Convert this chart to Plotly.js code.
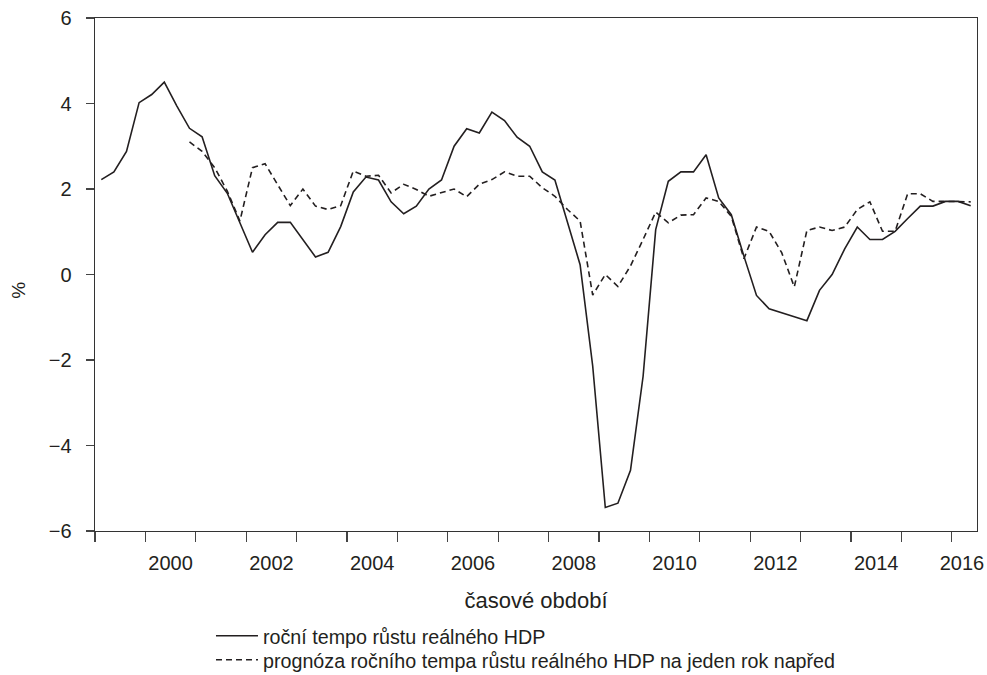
<!DOCTYPE html>
<html>
<head>
<meta charset="utf-8">
<script src="https://cdn.plot.ly/plotly-3.0.1.min.js"></script>
<style>
html,body{margin:0;padding:0;background:#fff;}
#chart{width:987px;height:675px;}
</style>
</head>
<body>
<div id="chart"></div>
<script>
// Quarterly data, first quarter = 1999 Q1
const firstYear = 1999;
const gdpGrowth = [
  2.22, 2.40, 2.88, 4.02,
  4.21, 4.50, 3.94, 3.42,
  3.22, 2.31, 1.90, 1.21,
  0.52, 0.93, 1.22, 1.22,
  0.82, 0.41, 0.52, 1.12,
  1.93, 2.28, 2.21, 1.70,
  1.42, 1.60, 2.00, 2.21,
  3.00, 3.41, 3.31, 3.80,
  3.60, 3.21, 3.00, 2.40,
  2.21, 1.22, 0.23, -2.14,
  -5.45, -5.35, -4.58, -2.38,
  1.05, 2.18, 2.40, 2.40,
  2.80, 1.79, 1.40, 0.43,
  -0.49, -0.80, -0.90, -0.99,
  -1.08, -0.37, 0.00, 0.60,
  1.11, 0.82, 0.82, 1.01,
  1.31, 1.60, 1.60, 1.71,
  1.71, 1.61
];
const gdpForecast = [
  null, null, null, null,
  null, null, null, 3.10,
  2.88, 2.50, 1.95, 1.25,
  2.50, 2.59, 2.11, 1.61,
  2.00, 1.60, 1.52, 1.61,
  2.42, 2.30, 2.32, 1.91,
  2.11, 1.99, 1.83, 1.91,
  2.00, 1.82, 2.11, 2.22,
  2.40, 2.30, 2.30, 2.03,
  1.83, 1.52, 1.25, -0.48,
  0.00, -0.28, 0.20, 0.82,
  1.46, 1.21, 1.39, 1.40,
  1.79, 1.71, 1.36, 0.37,
  1.11, 1.01, 0.51, -0.29,
  1.03, 1.11, 1.03, 1.11,
  1.52, 1.70, 1.01, 1.01,
  1.89, 1.89, 1.71, 1.71,
  1.71, 1.70
];
const yearLabels = ["2000", "2002", "2004", "2006", "2008", "2010", "2012", "2014", "2016"];
const yTicks = [-6, -4, -2, 0, 2, 4, 6];
const seriesNames = [
  "roční tempo růstu reálného HDP",
  "prognóza ročního tempa růstu reálného HDP na jeden rok napřed"
];
const xTitle = "časové období";
const yTitle = "%";

// quarter midpoints on a numeric year axis
const xq = gdpGrowth.map((_, i) => firstYear + Math.floor(i / 4) + ((i % 4) + 0.5) / 4);
// label positions: centre of each labelled year (last one centred in visible part)
const labelPos = yearLabels.map(y => +y === 2016 ? 2016.2 : +y + 0.5);

const ink = "#231f20";
const fontFam = "Liberation Sans, Arial, sans-serif";

const traces = [
  {
    x: xq, y: gdpGrowth, name: seriesNames[0], type: "scatter", mode: "lines",
    line: {color: ink, width: 1.6}, legend: "legend"
  },
  {
    x: xq, y: gdpForecast, name: seriesNames[1], type: "scatter", mode: "lines",
    line: {color: ink, width: 1.6, dash: "6px,4px"}, legend: "legend2"
  }
];

const legendBase = {
  x: 0.1315, xanchor: "left", yanchor: "middle",
  orientation: "v", bgcolor: "rgba(0,0,0,0)", borderwidth: 0,
  font: {family: fontFam, size: 19.7, color: ink},
  itemwidth: 42
};

const layout = {
  width: 987, height: 675,
  margin: {l: 95, r: 10, t: 18, b: 144, autoexpand: false},
  paper_bgcolor: "#fff", plot_bgcolor: "#fff",
  font: {family: fontFam, size: 20, color: ink},
  showlegend: true,
  legend: Object.assign({}, legendBase, {y: -0.2047}),
  legend2: Object.assign({}, legendBase, {y: -0.2515}),
  xaxis: {
    range: [1999, 2016.5],
    tickmode: "array", tickvals: labelPos, ticktext: yearLabels,
    ticks: "", ticklabelstandoff: 14,
    tickfont: {family: fontFam, size: 20, color: ink},
    minor: {tickmode: "linear", tick0: 1999, dtick: 1, ticks: "outside", ticklen: 10, tickwidth: 1.2, tickcolor: "#444", showgrid: false},
    showgrid: false, zeroline: false, automargin: false,
    showline: true, mirror: true, linecolor: "#333", linewidth: 1.4,
    title: {text: xTitle, font: {family: fontFam, size: 22, color: ink}, standoff: 19}
  },
  yaxis: {
    range: [-6, 6],
    tickmode: "array", tickvals: yTicks,
    ticks: "outside", ticklen: 8, tickwidth: 1.2, tickcolor: "#444",
    ticklabelstandoff: 10,
    tickfont: {family: fontFam, size: 20, color: ink},
    showgrid: false, zeroline: false, automargin: false,
    showline: true, mirror: true, linecolor: "#333", linewidth: 1.4
  },
  annotations: [
    {
      text: yTitle, xref: "paper", yref: "y", x: -0.0862, y: -0.36,
      xanchor: "center", yanchor: "middle", textangle: -90, showarrow: false,
      font: {family: fontFam, size: 19, color: ink}
    }
  ]
};

Plotly.newPlot("chart", traces, layout, {displayModeBar: false, staticPlot: true});
</script>
</body>
</html>
